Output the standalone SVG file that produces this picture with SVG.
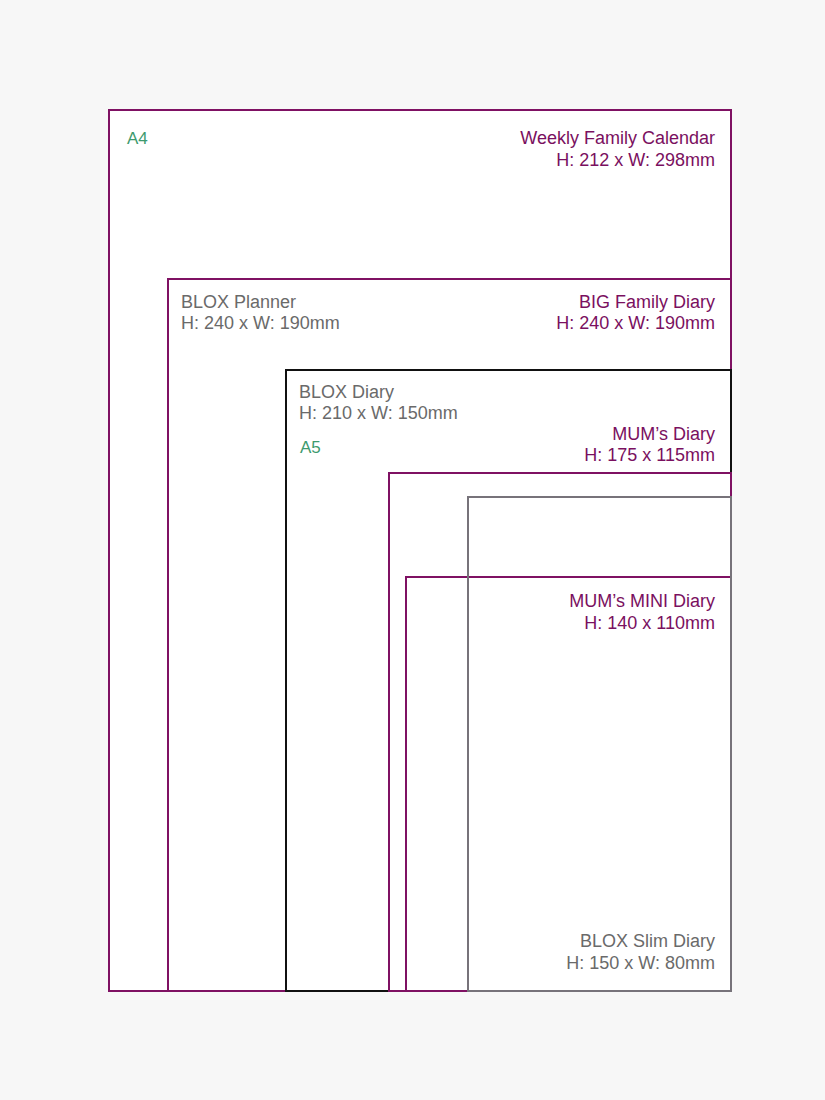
<svg xmlns="http://www.w3.org/2000/svg" width="825" height="1100" viewBox="0 0 825 1100">
<style>
.box{fill:none;stroke-width:2}
.w{fill:#ffffff}
.p{stroke:#7f1163}
.k{stroke:#111111}
.g{stroke:#77737a}
text{font-family:"Liberation Sans",Arial,sans-serif;font-size:18px}
.tp{fill:#7a1060}
.tg{fill:#6a6a6a}
.ta{fill:#3d9a6e;font-size:17px}
.r{text-anchor:end}
</style>
<rect x="0" y="0" width="825" height="1100" fill="#f7f7f7"/>
<g id="a4">
<rect x="109" y="110" width="622" height="881" class="box w p"/>
<text x="127" y="144" class="ta">A4</text>
<text x="715" y="144" class="tp r">Weekly Family Calendar</text>
<text x="715" y="166" class="tp r">H: 212 x W: 298mm</text>
</g>
<g id="big-family">
<rect x="168" y="279" width="563" height="712" class="box p"/>
<text x="181" y="308" class="tg">BLOX Planner</text>
<text x="181" y="329" class="tg">H: 240 x W: 190mm</text>
<text x="715" y="308" class="tp r">BIG Family Diary</text>
<text x="715" y="329" class="tp r">H: 240 x W: 190mm</text>
</g>
<g id="blox-diary">
<rect x="286" y="370" width="445" height="621" class="box k"/>
<text x="299" y="398" class="tg">BLOX Diary</text>
<text x="299" y="419" class="tg">H: 210 x W: 150mm</text>
<text x="300" y="453" class="ta">A5</text>
</g>
<g id="mums-diary">
<rect x="389" y="473" width="342" height="518" class="box p"/>
<text x="715" y="440" class="tp r">MUM’s Diary</text>
<text x="715" y="461" class="tp r">H: 175 x 115mm</text>
</g>
<g id="mums-mini">
<rect x="406" y="577" width="325" height="414" class="box p"/>
<text x="715" y="607" class="tp r">MUM’s MINI Diary</text>
<text x="715" y="629" class="tp r">H: 140 x 110mm</text>
</g>
<g id="blox-slim">
<rect x="468" y="497" width="263" height="494" class="box g"/>
<text x="715" y="947" class="tg r">BLOX Slim Diary</text>
<text x="715" y="969" class="tg r">H: 150 x W: 80mm</text>
</g>
<g id="connectors"></g>
</svg>
